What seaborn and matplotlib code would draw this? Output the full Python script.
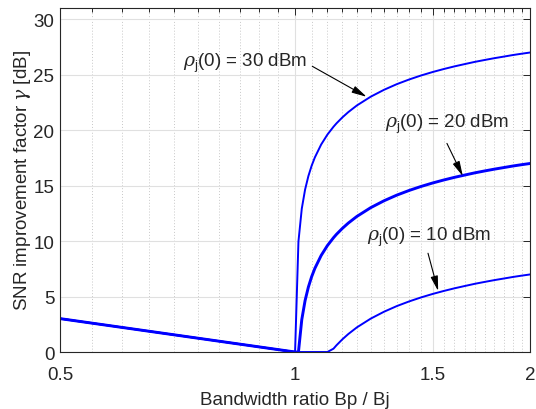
import matplotlib
matplotlib.use("Agg")
import matplotlib.pyplot as plt
import matplotlib.ticker as mticker
import numpy as np
import pandas as pd
import seaborn as sns

# ---- data ----
ratio = [0.5, 0.75, 1.0, 1.01, 1.02, 1.03, 1.04, 1.05, 1.06, 1.08, 1.1, 1.12, 1.13,
         1.15, 1.17, 1.2, 1.25, 1.3, 1.35, 1.4, 1.45, 1.5, 1.55, 1.6, 1.65, 1.7,
         1.75, 1.8, 1.85, 1.9, 1.95, 2.0]
gamma_30dBm = [3.01, 1.25, 0.0, 9.96, 12.92, 14.64, 15.85, 16.78, 17.53, 18.70, 19.59,
               20.30, 20.61, 21.15, 21.62, 22.22, 23.01, 23.63, 24.14, 24.56, 24.92,
               25.23, 25.50, 25.74, 25.95, 26.15, 26.32, 26.48, 26.62, 26.76, 26.88, 26.99]
gamma_20dBm = [3.01, 1.25, 0.0, 0.0, 2.92, 4.64, 5.85, 6.78, 7.53, 8.70, 9.59,
               10.30, 10.61, 11.15, 11.62, 12.22, 13.01, 13.63, 14.14, 14.56, 14.92,
               15.23, 15.50, 15.74, 15.95, 16.15, 16.32, 16.48, 16.62, 16.76, 16.88, 16.99]
gamma_10dBm = [3.01, 1.25, 0.0, 0.0, 0.0, 0.0, 0.0, 0.0, 0.0, 0.0, 0.0,
               0.30, 0.61, 1.15, 1.62, 2.22, 3.01, 3.63, 4.14, 4.56, 4.92,
               5.23, 5.50, 5.74, 5.95, 6.15, 6.32, 6.48, 6.62, 6.76, 6.88, 6.99]
series_labels = ["30 dBm", "20 dBm", "10 dBm"]
x_ticks = [0.5, 1, 1.5, 2]
y_ticks = [0, 5, 10, 15, 20, 25, 30]

df = pd.DataFrame({
    "ratio": ratio * 3,
    "gamma": gamma_30dBm + gamma_20dBm + gamma_10dBm,
    "power": [series_labels[0]] * len(ratio) + [series_labels[1]] * len(ratio)
             + [series_labels[2]] * len(ratio),
})

sns.set_style("white")
plt.rcParams["font.family"] = ["Liberation Sans", "DejaVu Sans"]
plt.rcParams["mathtext.fontset"] = "custom"
plt.rcParams["mathtext.rm"] = "Liberation Sans"
plt.rcParams["mathtext.it"] = "DejaVu Serif:italic"

fig = plt.figure(figsize=(5.36, 4.10), dpi=100)
ax = fig.add_axes([0.112, 0.139, 0.877, 0.839])

widths = {"30 dBm": 1.4, "20 dBm": 2.1, "10 dBm": 1.4}
for lab in series_labels:
    sub = df[df["power"] == lab]
    sns.lineplot(data=sub, x="ratio", y="gamma", ax=ax, color="#0000ff",
                 lw=widths[lab], estimator=None, sort=False, legend=False)

ax.set_xscale("log")
ax.set_xlim(0.5, 2)
ax.set_ylim(0, 31)
ax.xaxis.set_major_locator(mticker.FixedLocator(x_ticks))
ax.xaxis.set_major_formatter(mticker.FixedFormatter([f"{t:g}" for t in x_ticks]))
minor = [m for m in np.round(np.arange(0.55, 2.0, 0.05), 2) if m not in (1.0, 1.5)]
ax.xaxis.set_minor_locator(mticker.FixedLocator(minor))
ax.xaxis.set_minor_formatter(mticker.NullFormatter())
ax.yaxis.set_major_locator(mticker.FixedLocator(y_ticks))

dark = "#262626"
fsl = 13.5
ax.grid(True, which="major", color="#e0e0e0", lw=0.8, ls="-")
ax.grid(True, which="minor", axis="x", color="#c8c8c8", lw=0.7, ls=(0, (1, 2)))
ax.set_axisbelow(True)
for s in ax.spines.values():
    s.set_color(dark)
    s.set_linewidth(0.8)
ax.tick_params(which="both", direction="in", top=True, right=True,
               colors=dark, labelsize=fsl, width=0.7)
ax.tick_params(which="major", length=5)
ax.tick_params(which="minor", length=3)
ax.tick_params(axis="x", pad=10)
ax.tick_params(axis="y", pad=4)

ax.set_xlabel("Bandwidth ratio Bp / Bj", fontsize=fsl, color=dark, labelpad=6)
ax.set_ylabel(r"SNR improvement factor $\gamma$ [dB]", fontsize=fsl, color=dark, labelpad=0)

arrow = dict(arrowstyle="-|>,head_width=0.22,head_length=0.9", color="k", lw=0.8,
             shrinkA=0, shrinkB=0)
fs = 13.5
ax.text(0.718, 26.1, r"$\rho_\mathrm{j}$(0) = 30 dBm", ha="left", va="center", fontsize=fs)
ax.annotate("", xy=(1.235, 23.0), xytext=(1.052, 25.75), arrowprops=arrow)
ax.text(1.304, 20.6, r"$\rho_\mathrm{j}$(0) = 20 dBm", ha="left", va="center", fontsize=fs)
ax.annotate("", xy=(1.64, 15.85), xytext=(1.565, 18.8), arrowprops=arrow)
ax.text(1.237, 10.4, r"$\rho_\mathrm{j}$(0) = 10 dBm", ha="left", va="center", fontsize=fs)
ax.annotate("", xy=(1.525, 5.5), xytext=(1.48, 8.9), arrowprops=arrow)

fig.savefig("out.png", dpi=100)
